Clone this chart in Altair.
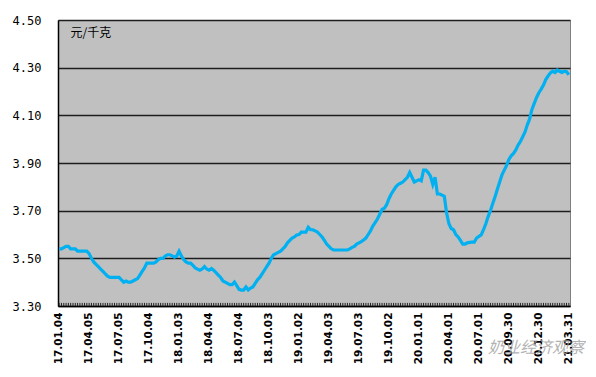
import json
import altair as alt
import pandas as pd

# weekly prices (元/千克), 2017-01-04 .. 2021-03-31
prices_2017 = [3.54, 3.54, 3.545, 3.55, 3.55, 3.54, 3.54, 3.54, 3.53, 3.53,
               3.53, 3.53, 3.53, 3.52, 3.50, 3.485, 3.475, 3.465, 3.455, 3.445,
               3.435, 3.425, 3.42, 3.42, 3.42, 3.42, 3.42, 3.41, 3.40, 3.405,
               3.40, 3.40, 3.405, 3.41, 3.415, 3.43, 3.445, 3.46, 3.48, 3.48,
               3.48, 3.48, 3.485, 3.495, 3.50, 3.50, 3.51, 3.515, 3.515, 3.51,
               3.505, 3.51]
prices_2018 = [3.53, 3.51, 3.495, 3.485, 3.48, 3.48, 3.47, 3.46,
               3.455, 3.45, 3.455, 3.465, 3.455, 3.45, 3.457, 3.45, 3.44, 3.43,
               3.42, 3.405, 3.40, 3.395, 3.39, 3.39, 3.40, 3.385, 3.37, 3.367,
               3.367, 3.38, 3.367, 3.375, 3.38, 3.395, 3.41, 3.42, 3.435, 3.45,
               3.465, 3.48, 3.50, 3.515, 3.52, 3.525, 3.53, 3.54, 3.55, 3.565,
               3.575, 3.585, 3.59, 3.598]
prices_2019 = [3.60, 3.61, 3.61, 3.61, 3.63, 3.62,
               3.62, 3.615, 3.61, 3.60, 3.59, 3.575, 3.56, 3.55, 3.54, 3.535,
               3.535, 3.535, 3.535, 3.535, 3.535, 3.535, 3.54, 3.546, 3.55, 3.56,
               3.565, 3.57, 3.577, 3.585, 3.60, 3.615, 3.635, 3.65, 3.665, 3.685,
               3.705, 3.71, 3.725, 3.75, 3.77, 3.785, 3.80, 3.81, 3.815, 3.82,
               3.83, 3.84, 3.86, 3.84, 3.82, 3.825]
prices_2020 = [3.83, 3.825, 3.87, 3.87,
               3.86, 3.845, 3.81, 3.84, 3.77, 3.77, 3.765, 3.76, 3.69, 3.645,
               3.625, 3.62, 3.60, 3.59, 3.575, 3.56, 3.56, 3.565, 3.567, 3.568,
               3.568, 3.585, 3.592, 3.598, 3.62, 3.645, 3.675, 3.70, 3.73, 3.758,
               3.79, 3.82, 3.85, 3.87, 3.89, 3.915, 3.93, 3.94, 3.955, 3.975,
               3.99, 4.01, 4.03, 4.06, 4.085, 4.125, 4.15, 4.175, 4.195]
prices_2021 = [4.21,
               4.227, 4.25, 4.265, 4.278, 4.285, 4.28, 4.29, 4.285, 4.28, 4.285,
               4.283, 4.27]

tick_labels = ["17.01.04", "17.04.05", "17.07.05", "17.10.04", "18.01.03",
               "18.04.04", "18.07.04", "18.10.03", "19.01.02", "19.04.03",
               "19.07.03", "19.10.02", "20.01.01", "20.04.01", "20.07.01",
               "20.09.30", "20.12.30", "21.03.31"]
y_ticks = [3.30, 3.50, 3.70, 3.90, 4.10, 4.30, 4.50]
unit_label = "元/千克"
watermark = "奶业经济观察"

prices = prices_2017 + prices_2018 + prices_2019 + prices_2020 + prices_2021
weeks = pd.date_range("2017-01-04", periods=len(prices), freq="7D").strftime("%y.%m.%d")
df = pd.DataFrame({"week": list(weeks), "price": prices})

x_enc = alt.X(
    "week:O", sort=None, title=None,
    axis=alt.Axis(
        values=tick_labels, labelAngle=270, labelFont="DejaVu Sans",
        labelFontSize=10.5, labelFontWeight="bold", labelColor="black",
        labelPadding=6, tickSize=0, domainColor="black", domainWidth=1.5,
        labelOverlap=False, grid=False,
    ),
)

line = alt.Chart(df).mark_line(color="#00B0F0", strokeWidth=3.2).encode(
    x=x_enc,
    y=alt.Y(
        "price:Q",
        scale=alt.Scale(domain=[3.30, 4.50], nice=False, zero=False),
        axis=alt.Axis(
            values=y_ticks, format=".2f", labelFont="DejaVu Sans Mono",
            labelFontSize=12, labelColor="black", labelPadding=17, tickSize=0,
            domainColor="black", domainWidth=1.5,
            grid=True, gridColor="#1e1e1e", gridWidth=1.3,
            title=unit_label, titleAngle=0, titleX=12, titleY=12,
            titleAlign="left", titleBaseline="middle",
            titleFont="Noto Sans CJK SC", titleFontSize=12,
            titleFontWeight="normal", titleColor="black",
        ),
    ),
)

ticks = alt.Chart(df).mark_rule(color="#222222", strokeWidth=1).encode(
    x=alt.X("week:O", sort=None),
    y=alt.datum(3.30),
    y2=alt.datum(3.313),
)

mark_wm = alt.Chart(pd.DataFrame({"t": [watermark]})).mark_text(
    font="Noto Sans CJK SC", fontSize=16, fontStyle="italic",
    color="#a0a0a0", opacity=0.8, align="center", baseline="middle",
).encode(text="t:N", x=alt.value(478), y=alt.value(328))

chart = (
    alt.layer(ticks, line, mark_wm)
    .properties(
        width=512, height=286,
        autosize=alt.AutoSizeParams(type="none"),
        padding={"left": 50, "top": 12, "right": 18, "bottom": 63},
        background="white",
    )
    .configure_view(fill="#C0C0C0", stroke="#808080", strokeWidth=1)
)

chart.save("out.html", embed_options={"renderer": "svg", "actions": False})
